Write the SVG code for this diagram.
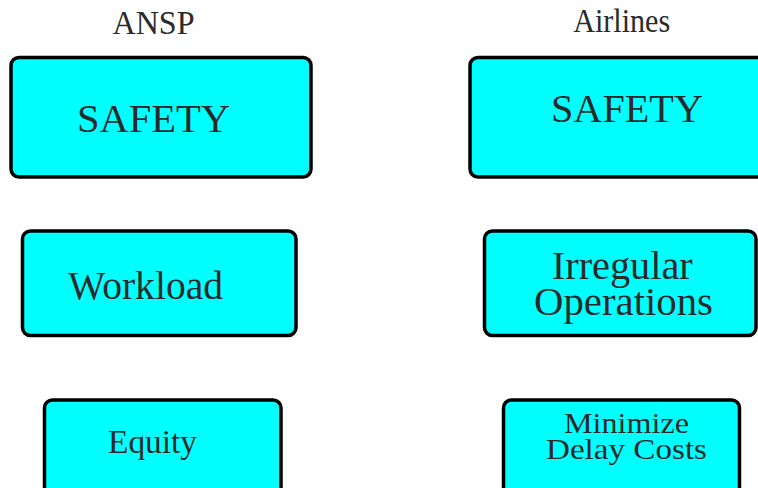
<svg xmlns="http://www.w3.org/2000/svg" width="758" height="488" viewBox="0 0 758 488">
<style>
.box{fill:#00ffff;stroke:#000;stroke-width:3.5}
text{font-family:"Liberation Serif","DejaVu Serif",serif;fill:#2a2a2a;text-anchor:middle}
.h{font-size:33px}
.l{font-size:40px}
.m{font-size:33px}
.s{font-size:30px}
</style>
<rect width="758" height="488" fill="#fff"/>
<g id="header-ansp"><text class="h" x="153.5" y="33.5" textLength="82" lengthAdjust="spacingAndGlyphs">ANSP</text></g>
<g id="header-airlines"><text class="h" x="621.7" y="31.5" textLength="97" lengthAdjust="spacingAndGlyphs">Airlines</text></g>
<g id="ansp-safety"><rect class="box" x="11" y="57.5" width="300" height="119.5" rx="8"/><text class="l" x="153.5" y="131.5" textLength="153" lengthAdjust="spacingAndGlyphs">SAFETY</text></g>
<g id="air-safety"><rect class="box" x="470" y="57.5" width="300" height="119.5" rx="8"/><text class="l" x="627" y="122.3" textLength="152" lengthAdjust="spacingAndGlyphs">SAFETY</text></g>
<g id="workload"><rect class="box" x="22.5" y="231" width="273.5" height="104.5" rx="8"/><text class="l" x="145.5" y="299" textLength="155" lengthAdjust="spacingAndGlyphs">Workload</text></g>
<g id="irregular"><rect class="box" x="484.5" y="231" width="271.5" height="104.5" rx="8"/><text class="l" x="622.3" y="279.3" textLength="141" lengthAdjust="spacingAndGlyphs">Irregular</text><text class="l" x="623.5" y="315" textLength="179" lengthAdjust="spacingAndGlyphs">Operations</text></g>
<g id="equity"><rect class="box" x="44.5" y="400" width="236.5" height="100" rx="8"/><text class="m" x="152.5" y="453" textLength="89" lengthAdjust="spacingAndGlyphs">Equity</text></g>
<g id="delay"><rect class="box" x="503.5" y="400" width="236" height="100" rx="8"/><text class="s" x="626.5" y="433.3" textLength="125" lengthAdjust="spacingAndGlyphs">Minimize</text><text class="s" x="626.5" y="459.3" textLength="161" lengthAdjust="spacingAndGlyphs">Delay Costs</text></g>
<g id="connectors"></g>
</svg>
